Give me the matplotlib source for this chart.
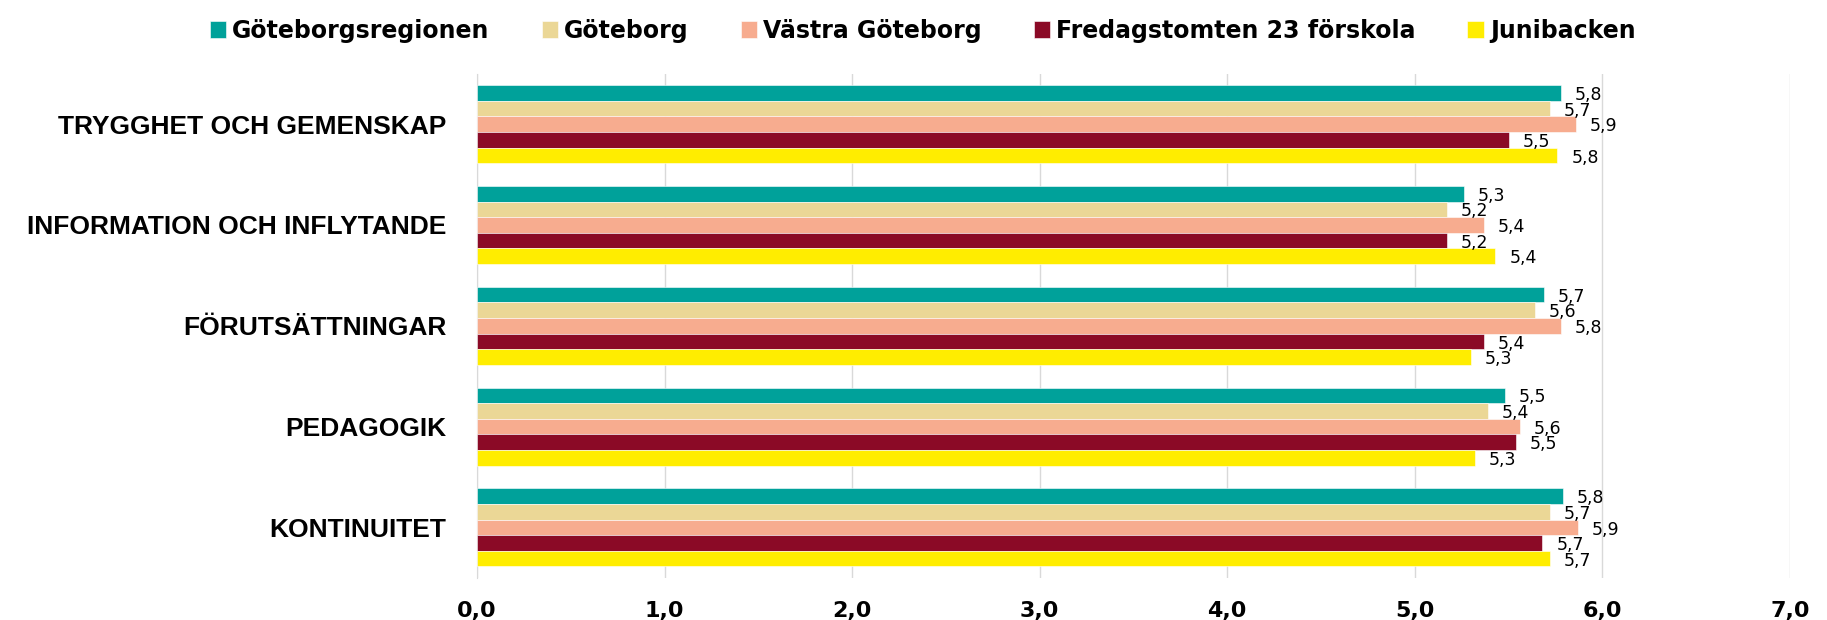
import matplotlib
matplotlib.use("Agg")
import matplotlib.pyplot as plt
import numpy as np

categories = ["TRYGGHET OCH GEMENSKAP", "INFORMATION OCH INFLYTANDE",
              "FÖRUTSÄTTNINGAR", "PEDAGOGIK", "KONTINUITET"]
series_names = ["Göteborgsregionen", "Göteborg", "Västra Göteborg",
                "Fredagstomten 23 förskola", "Junibacken"]
goteborgsregionen = [5.78, 5.26, 5.69, 5.48, 5.79]
goteborg = [5.72, 5.17, 5.64, 5.39, 5.72]
vastra_goteborg = [5.86, 5.37, 5.78, 5.56, 5.87]
fredagstomten = [5.50, 5.17, 5.37, 5.54, 5.68]
junibacken = [5.76, 5.43, 5.30, 5.32, 5.72]
series_values = [goteborgsregionen, goteborg, vastra_goteborg, fredagstomten, junibacken]
colors = ["#00A19A", "#EBD796", "#F7AC8F", "#8B0A26", "#FFED00"]
xticks = [0, 1, 2, 3, 4, 5, 6, 7]
xtick_labels = ["0,0", "1,0", "2,0", "3,0", "4,0", "5,0", "6,0", "7,0"]

FONT = ["Liberation Sans", "DejaVu Sans"]

fig = plt.figure(figsize=(18.27, 6.2), dpi=100)
ax = fig.add_axes([0.2611, 0.068, 0.7186, 0.813])

n = len(series_names)
h = 0.155
y = np.arange(len(categories))
for i, (name, vals, c) in enumerate(zip(series_names, series_values, colors)):
    pos = y + (i - (n - 1) / 2) * h
    ax.barh(pos, vals, height=h, color=c, label=name, zorder=3,
            edgecolor="white", linewidth=0.4)
    for p, v in zip(pos, vals):
        ax.annotate(f"{v:.1f}".replace(".", ","), xy=(v, p), xytext=(10, -1.5),
                    textcoords="offset points", va="center", ha="left",
                    fontsize=12.5, family=["DejaVu Sans"], color="black", zorder=4)

ax.set_ylim(len(categories) - 0.5, -0.5)
ax.set_xlim(0, 7)
ax.set_xticks(xticks)
ax.set_xticklabels(xtick_labels, fontsize=16, fontweight="bold", family=["DejaVu Sans"])
ax.set_yticks(y)
ax.set_yticklabels(categories, fontsize=19, fontweight="bold", family=FONT)
ax.tick_params(axis="y", length=0, pad=22)
ax.tick_params(axis="x", length=0, pad=17)
ax.grid(axis="x", color="#D9D9D9", linewidth=1, zorder=0)
for s in ["top", "right", "bottom"]:
    ax.spines[s].set_visible(False)
ax.spines["left"].set_color("#D9D9D9")

leg = fig.legend(loc="upper center", bbox_to_anchor=(0.505, 1.0), ncol=5,
                 frameon=False, prop={"family": ["DejaVu Sans"], "weight": "bold", "size": 17},
                 handlelength=0.7, handleheight=0.7, handletextpad=0.25,
                 columnspacing=2.2, borderaxespad=0.4)

fig.savefig("out.png", dpi=100)
